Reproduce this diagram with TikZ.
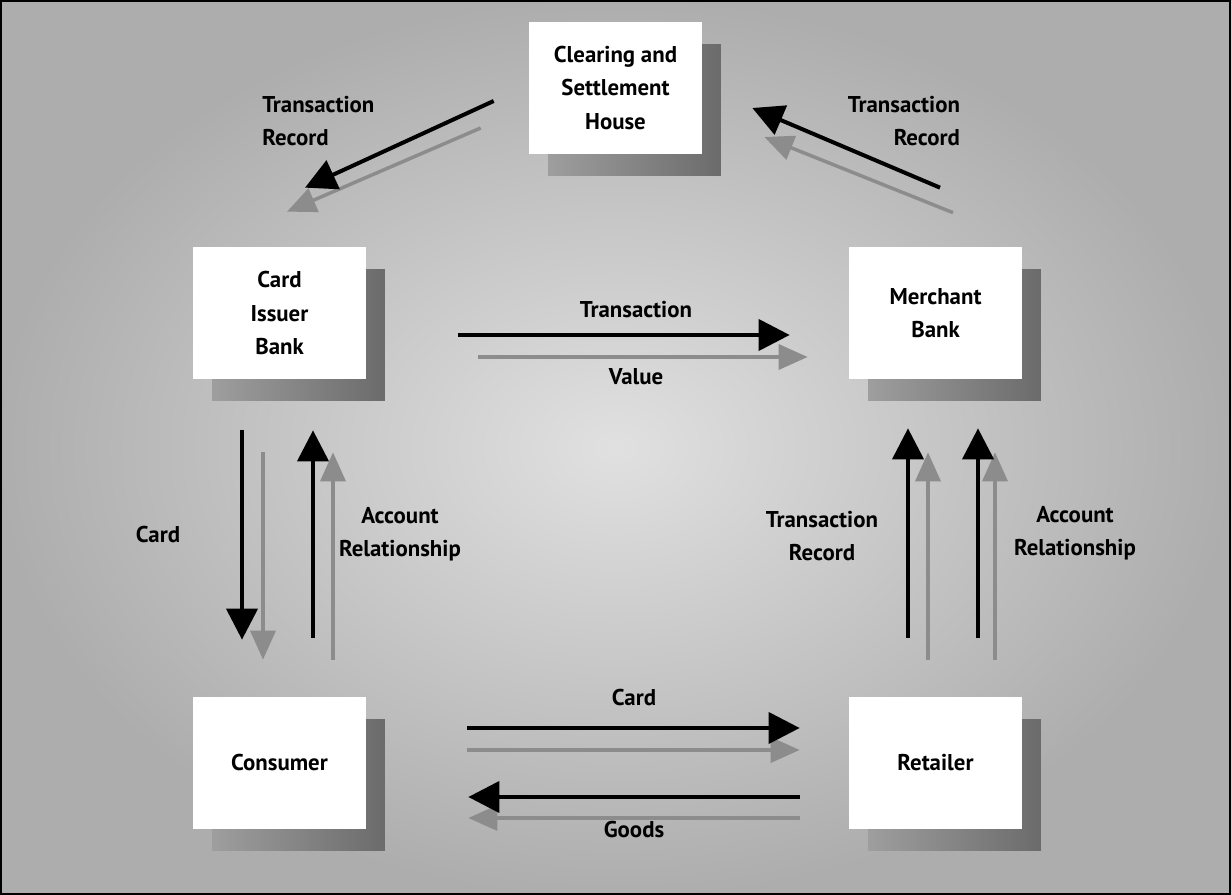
\documentclass[tikz,border=0pt]{standalone}
\usepackage{fontspec}
\setmainfont{PT Sans}
\usetikzlibrary{arrows.meta,calc,shadows}

\begin{document}
\begin{tikzpicture}[x=0.02cm,y=-0.02cm,
  bank/.style={fill=white, minimum width=3.46cm, minimum height=2.64cm, align=center, inner sep=0pt,
    font=\bfseries\fontsize{13}{19}\selectfont,
    general shadow={left color=black!38, right color=black!58, shadow xshift=0.38cm, shadow yshift=-0.44cm}},
  tag/.style={font=\bfseries\fontsize{13}{19}\selectfont, inner sep=0pt},
  flow/.style={line width=0.08cm, black, -{Triangle[length=0.62cm, width=0.62cm]}},
  echo/.style={line width=0.07cm, black!45, -{Triangle[length=0.58cm, width=0.5cm]}}]
  % background
  \shade[inner color=black!12, outer color=black!32] (0,0) rectangle (1231,895);
  \draw[line width=0.6pt] (1,1) rectangle (1230,894);
  \useasboundingbox (0,0) rectangle (1231,895);

  % parties
  \node[bank] (house) at (615.5,88) {Clearing and\\Settlement\\House};
  \node[bank] (issuer) at (279.5,313) {Card\\Issuer\\Bank};
  \node[bank] (merchant) at (935.5,313) {Merchant\\Bank};
  \node[bank] (consumer) at (279.5,763) {Consumer};
  \node[bank] (retailer) at (935.5,763) {Retailer};

  % shadow arrows
  \draw[echo] ($(house.west)+(-48,40)$) -- ($(issuer.north)+(7.5,-35)$);
  \draw[echo] ($(merchant.north)+(17.5,-34)$) -- ($(house.east)+(62,49)$);
  \draw[echo] ($(issuer.east)+(112,44)$) -- ($(merchant.west)+(-41,44)$);
  \draw[echo] ($(issuer.south)+(-16.5,73)$) -- ($(consumer.north)+(-16.5,-37)$);
  \draw[echo] ($(consumer.north)+(53.5,-37)$) -- ($(issuer.south)+(53.5,73)$);
  \draw[echo] ($(retailer.north)+(-7.5,-37)$) -- ($(merchant.south)+(-7.5,73)$);
  \draw[echo] ($(retailer.north)+(59.5,-37)$) -- ($(merchant.south)+(59.5,73)$);
  \draw[echo] ($(consumer.east)+(101,-13)$) -- ($(retailer.west)+(-49,-13)$);
  \draw[echo] ($(retailer.west)+(-49,55)$) -- ($(consumer.east)+(102,55)$);

  % main arrows
  \draw[flow] ($(house.west)+(-35,13)$) -- ($(issuer.north)+(25.5,-59)$);
  \draw[flow] ($(merchant.north)+(4.5,-59)$) -- ($(house.east)+(50,20)$);
  \draw[flow] ($(issuer.east)+(92,22)$) -- ($(merchant.west)+(-59,22)$);
  \draw[flow] ($(issuer.south)+(-37.5,51)$) -- ($(consumer.north)+(-37.5,-57)$);
  \draw[flow] ($(consumer.north)+(33.5,-59)$) -- ($(issuer.south)+(33.5,51)$);
  \draw[flow] ($(retailer.north)+(-27.5,-59)$) -- ($(merchant.south)+(-27.5,49)$);
  \draw[flow] ($(retailer.north)+(42.5,-59)$) -- ($(merchant.south)+(42.5,49)$);
  \draw[flow] ($(consumer.east)+(101,-35)$) -- ($(retailer.west)+(-49,-35)$);
  \draw[flow] ($(retailer.west)+(-49,34)$) -- ($(consumer.east)+(102,34)$);

  % labels
  \node[tag, anchor=west, align=left] (rec1) at (262,121) {Transaction\\Record};
  \node[tag, align=right] (rec2) at (904,121) {Transaction\\Record};
  \node[tag] (txn) at (636,310) {Transaction};
  \node[tag] (val) at (636,377) {Value};
  \node[tag] (card1) at (158,535) {Card};
  \node[tag, align=center] (acc1) at (400,534) {Account\\Relationship};
  \node[tag, align=center] (rec3) at (822,536) {Transaction\\Record};
  \node[tag, align=center] (acc2) at (1075,533) {Account\\Relationship};
  \node[tag] (card2) at (634,698) {Card};
  \node[tag] (goods) at (634,830) {Goods};
\end{tikzpicture}
\end{document}
